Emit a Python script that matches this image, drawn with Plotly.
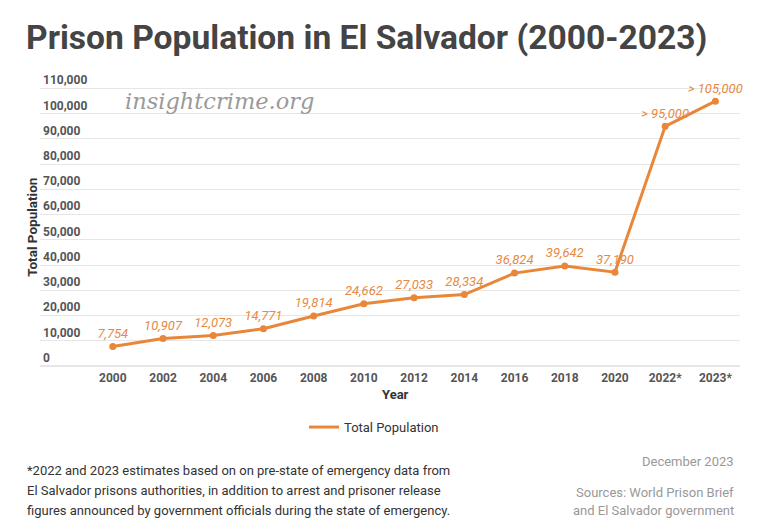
import plotly.graph_objects as go

# data
years = ["2000", "2002", "2004", "2006", "2008", "2010", "2012",
         "2014", "2016", "2018", "2020", "2022*", "2023*"]
population = [7754, 10907, 12073, 14771, 19814, 24662, 27033,
              28334, 36824, 39642, 37190, 95000, 105000]
point_labels = ["7,754", "10,907", "12,073", "14,771", "19,814", "24,662", "27,033",
                "28,334", "36,824", "39,642", "37,190", "> 95,000", "> 105,000"]
y_ticks = list(range(0, 110001, 10000))

ORANGE = "#E8873A"
OFF = 8  # page body margin
W, H = 778 - 2 * OFF, 528 - 2 * OFF
Y_MAX = 111000
# plot area in page pixels (0 at y=366, 110,000 at y=89)
PX0, PX1, PY1 = 40, 740, 366
PY0 = PY1 - (PY1 - 89) * Y_MAX / 110000
L, R, T, B = PX0 - OFF, W - (PX1 - OFF), PY0 - OFF, H - (PY1 - OFF)


def px_x(x):
    return (x - PX0) / (PX1 - PX0)


def px_y(y):
    return (PY1 - y) / (PY1 - PY0)


fig = go.Figure()

# line (legend entry)
fig.add_trace(go.Scatter(
    x=years, y=population,
    mode="lines",
    name="Total Population",
    line=dict(color=ORANGE, width=3),
    hoverinfo="skip",
))

# dots + value labels
fig.add_trace(go.Scatter(
    x=years, y=population,
    mode="markers+text",
    marker=dict(color=ORANGE, size=7),
    text=point_labels,
    textposition="top center",
    textfont=dict(family="Roboto", size=13, color="#E8893F", style="italic"),
    showlegend=False,
    cliponaxis=False,
))

fig.update_layout(
    width=W, height=H,
    margin=dict(l=L, r=R, t=T, b=B),
    paper_bgcolor="white",
    plot_bgcolor="white",
    font=dict(family="Roboto", color="#444"),
    title=dict(
        text="<b>Prison Population in El Salvador (2000-2023)</b>",
        x=(26 - OFF) / W, xanchor="left", xref="container",
        y=1 - (37 - OFF) / H, yanchor="middle", yref="container",
        font=dict(family="Roboto", size=33.6, color="#444"),
    ),
    xaxis=dict(
        type="category",
        range=[-1.45, 12.49],
        showgrid=False, zeroline=False, showline=False,
        ticks="", ticklabelstandoff=3,
        tickfont=dict(size=12, color="#555", weight="bold"),
        automargin=False,
    ),
    yaxis=dict(
        range=[0, Y_MAX],
        tickvals=y_ticks,
        tickformat=",d",
        ticklabelposition="inside top",
        ticklabeloverflow="allow",
        tickfont=dict(size=12, color="#555", weight="bold"),
        gridcolor="#e6e6e6", gridwidth=1,
        zeroline=True, zerolinecolor="#e6e6e6",
        showline=False, ticks="",
        automargin=False,
    ),
    legend=dict(
        orientation="h",
        x=px_x(374), xanchor="center",
        y=px_y(427), yanchor="middle",
        font=dict(size=13, color="#333"),
        itemwidth=30,
    ),
)

footnote = [
    "*2022 and 2023 estimates based on on pre-state of emergency data from",
    "El Salvador prisons authorities, in addition to arrest and prisoner release",
    "figures announced by government officials during the state of emergency.",
]
sources = ["Sources: World Prison Brief", "and El Salvador government"]

annotations = [
    # axis titles
    dict(text="<b>Total Population</b>", x=px_x(32), y=px_y(228), textangle=-90,
         font=dict(size=13.5, color="#333")),
    dict(text="<b>Year</b>", x=px_x(395), y=px_y(394),
         font=dict(size=13, color="#333")),
    # watermark
    dict(text="<i>insightcrime.org</i>", x=px_x(220), y=px_y(101),
         font=dict(family="DejaVu Serif", size=22.5, color="#9a9a9a")),
    dict(text="December 2023", x=px_x(736), xanchor="right", y=px_y(461),
         font=dict(size=13, color="#999")),
]
for i, line in enumerate(footnote):
    annotations.append(dict(text=line, x=px_x(25), xanchor="left", y=px_y(470 + 20 * i),
                            font=dict(size=13, color="#333")))
for i, line in enumerate(sources):
    annotations.append(dict(text=line, x=px_x(736), xanchor="right", y=px_y(492 + 18.5 * i),
                            font=dict(size=13, color="#999")))

for a in annotations:
    a.setdefault("xanchor", "center")
    a.setdefault("yanchor", "middle")
    fig.add_annotation(xref="paper", yref="paper", showarrow=False, **a)

fig.write_html("out.html")
